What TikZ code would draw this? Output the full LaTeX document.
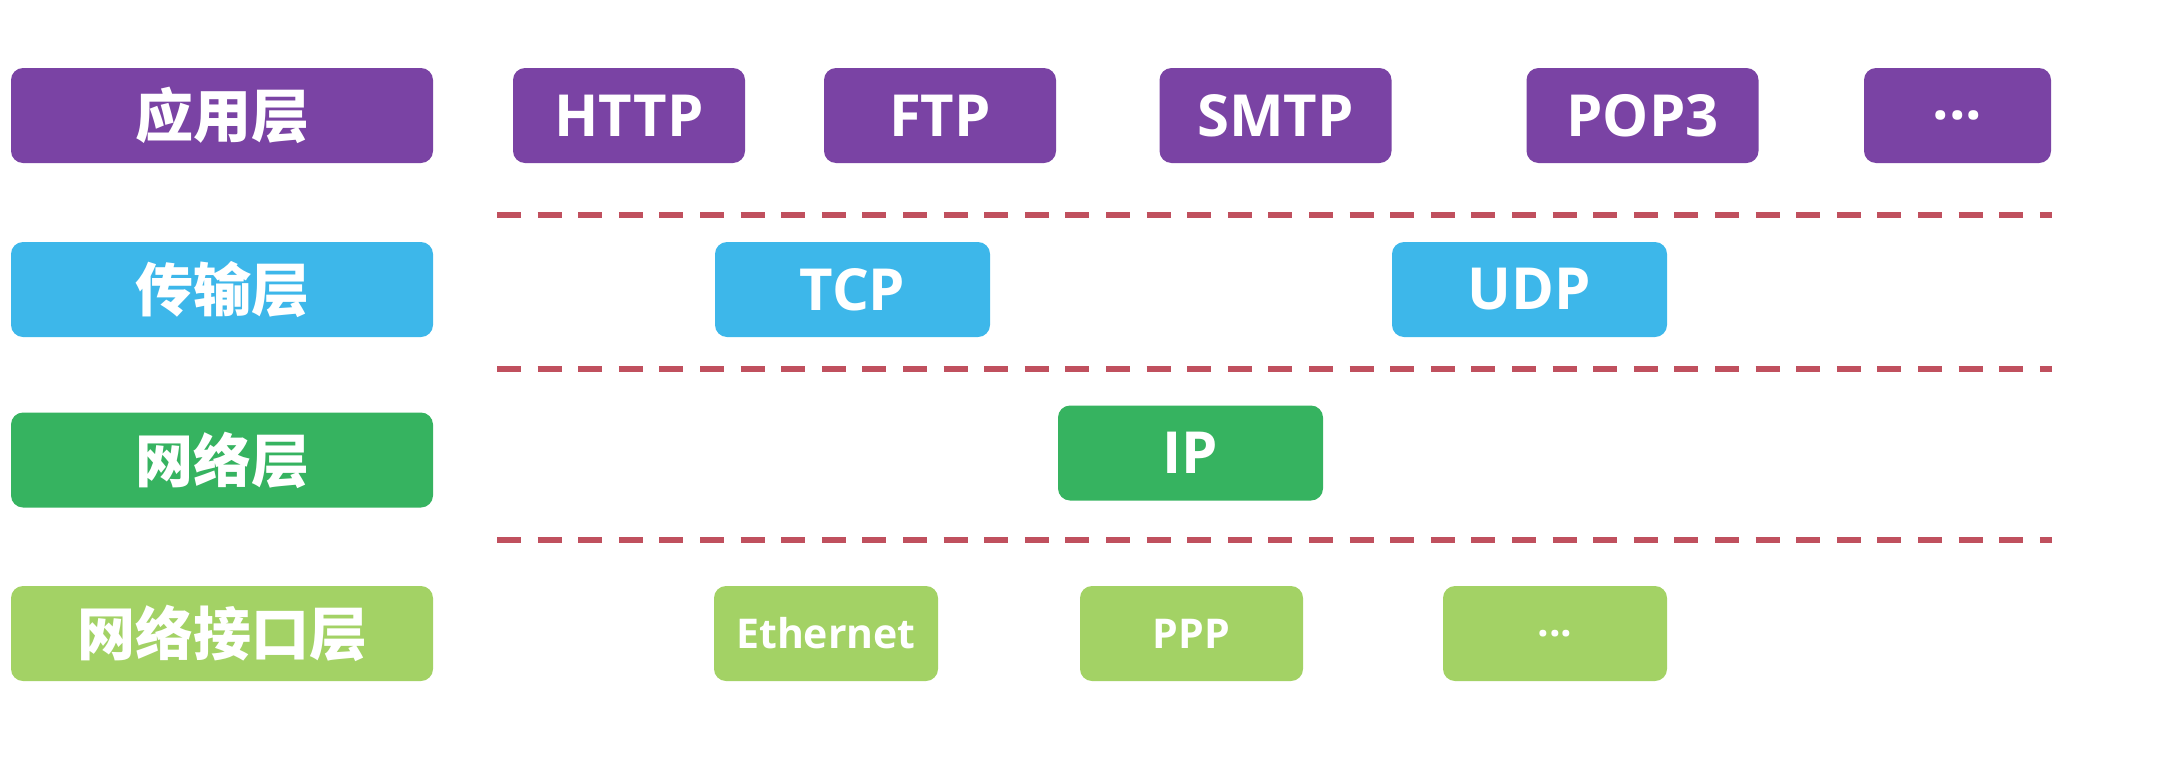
\documentclass[tikz,border=0pt]{standalone}
\usepackage{fontspec}
\setmainfont{Open Sans}
\newfontfamily\cjk{Noto Sans CJK SC}
\definecolor{cApp}{HTML}{7A43A4}
\definecolor{cTrans}{HTML}{3DB7EA}
\definecolor{cNet}{HTML}{36B360}
\definecolor{cLink}{HTML}{A3D265}
\definecolor{cDash}{HTML}{C0505E}
\tikzset{
  layerbox/.style={rounded corners=6pt, inner sep=0pt, text=white, font=\bfseries\fontsize{29}{32}\selectfont},
  cjkbox/.style={layerbox, font=\cjk\bfseries\fontsize{29}{32}\selectfont, minimum width=211pt, minimum height=47.5pt},
  big/.style={layerbox, minimum height=47.5pt},
  small/.style={layerbox, minimum height=47.5pt, font=\bfseries\fontsize{20.5}{24}\selectfont},
  sep/.style={cDash, line width=3pt, dash pattern=on 12pt off 8.3pt}
}
\begin{document}
\begin{tikzpicture}[x=0.5pt,y=-0.5pt]
\useasboundingbox (0,0) rectangle (2176,766);
% row 1
\node[cjkbox, fill=cApp] (app) at (222,115.5) {应用层};
\node[big, fill=cApp, minimum width=116pt] (http) at (629,115.5) {HTTP};
\node[big, fill=cApp, minimum width=116pt] (ftp) at (940,115.5) {FTP};
\node[big, fill=cApp, minimum width=116pt] (smtp) at (1275.5,115.5) {SMTP};
\node[big, fill=cApp, minimum width=116pt] (pop) at (1642.5,115.5) {POP3};
\node[big, fill=cApp, minimum width=93.5pt] (appmore) at (1957.5,115.5) {...};
% row 2
\node[cjkbox, fill=cTrans] (trans) at (222,289.5) {传输层};
\node[big, fill=cTrans, minimum width=137.5pt] (tcp) at (852.5,289.5) {TCP};
\node[big, fill=cTrans, minimum width=137.5pt] (udp) at (1529.5,289.5) {UDP};
% row 3
\node[cjkbox, fill=cNet] (net) at (222,460) {网络层};
\node[big, fill=cNet, minimum width=132.5pt] (ip) at (1190.5,453) {IP};
% row 4
\node[cjkbox, fill=cLink] (link) at (222,633.5) {网络接口层};
\node[small, fill=cLink, minimum width=112pt] (eth) at (826,633.5) {Ethernet};
\node[small, fill=cLink, minimum width=111.5pt] (ppp) at (1191.5,633.5) {PPP};
\node[small, fill=cLink, minimum width=112pt] (linkmore) at (1555,633.5) {...};
% separators
\coordinate (s1a) at (497,215); \coordinate (s1b) at (2052,215);
\coordinate (s2a) at (497,369); \coordinate (s2b) at (2052,369);
\coordinate (s3a) at (497,540); \coordinate (s3b) at (2052,540);
\draw[sep] (s1a) -- (s1b);
\draw[sep] (s2a) -- (s2b);
\draw[sep] (s3a) -- (s3b);
\end{tikzpicture}
\end{document}
